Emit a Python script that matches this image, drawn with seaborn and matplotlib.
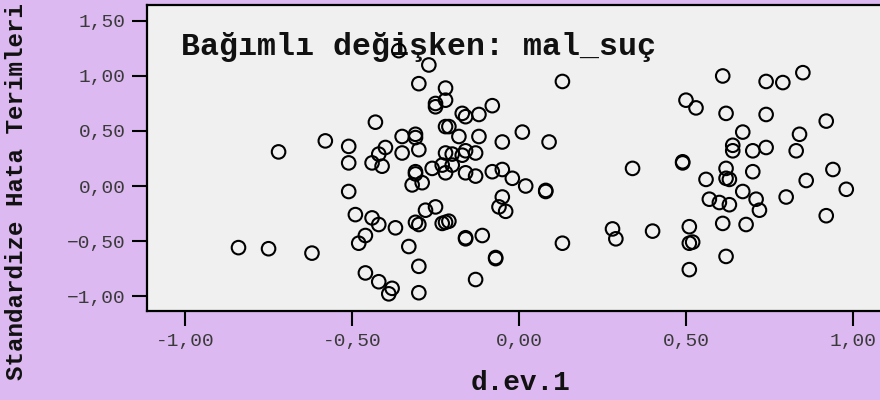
import matplotlib
matplotlib.use("Agg")
import matplotlib.pyplot as plt
import seaborn as sns
import pandas as pd
from matplotlib.ticker import FuncFormatter

# ---- data ----
dev1 = [
    -0.84, -0.75, -0.72, -0.62, -0.58, -0.51, -0.51, -0.51, -0.49, -0.44,
    -0.42, -0.37, -0.46, -0.48, -0.33, -0.46, -0.42, -0.38, -0.39, -0.44,
    -0.41, -0.42, -0.40, -0.43, -0.36, -0.35, -0.31, -0.31, -0.30, -0.35,
    -0.31, -0.31, -0.32, -0.29, -0.26, -0.28, -0.25, -0.31, -0.30, -0.30,
    -0.30, -0.27, -0.30, -0.25, -0.25, -0.22, -0.22, -0.17, -0.16, -0.22,
    -0.21, -0.18, -0.22, -0.20, -0.17, -0.16, -0.13, -0.23, -0.22, -0.20,
    -0.16, -0.23, -0.22, -0.21, -0.16, -0.16, -0.12, -0.08, -0.12, -0.13,
    -0.11, -0.13, -0.08, -0.05, -0.02, 0.02, 0.08, 0.08, -0.05, -0.06,
    -0.04, -0.07, -0.07, -0.05, 0.01, 0.09, 0.13, 0.13, 0.28, 0.29,
    0.34, 0.40, 0.49, 0.49, 0.51, 0.51, 0.52, 0.51, 0.50, 0.53,
    0.56, 0.57, 0.60, 0.63, 0.61, 0.62, 0.67, 0.64, 0.64, 0.70,
    0.74, 0.62, 0.62, 0.63, 0.70, 0.67, 0.71, 0.72, 0.61, 0.68,
    0.62, 0.74, 0.79, 0.85, 0.74, 0.92, 0.84, 0.83, 0.94, 0.86,
    0.98, 0.80, 0.92,
]
resid = [
    -0.56, -0.57, 0.31, -0.61, 0.41, 0.36, 0.21, -0.05, -0.26, -0.29,
    -0.35, -0.38, -0.45, -0.52, -0.55, -0.79, -0.87, -0.93, -0.98, 0.21,
    0.18, 0.29, 0.35, 0.58, 1.23, 0.45, 0.47, 0.44, 0.33, 0.30,
    0.13, 0.11, 0.01, 0.03, 0.16, -0.22, -0.19, -0.33, -0.35, -0.73,
    -0.97, 1.10, 0.93, 0.75, 0.72, 0.89, 0.78, 0.66, 0.63, 0.54,
    0.54, 0.45, 0.30, 0.29, 0.28, 0.32, 0.30, 0.19, 0.12, 0.19,
    0.12, -0.34, -0.33, -0.32, -0.47, -0.48, 0.65, 0.73, 0.45, 0.09,
    -0.45, -0.85, 0.13, 0.15, 0.07, 0.00, -0.04, -0.05, -0.10, -0.19,
    -0.23, -0.65, -0.66, 0.40, 0.49, 0.40, 0.95, -0.52, -0.39, -0.48,
    0.16, -0.41, 0.22, 0.21, -0.37, -0.52, -0.51, -0.76, 0.78, 0.71,
    0.06, -0.12, -0.15, -0.17, 1.00, 0.66, 0.49, 0.37, 0.32, 0.32,
    0.35, 0.16, 0.07, 0.06, 0.13, -0.05, -0.12, -0.22, -0.34, -0.35,
    -0.64, 0.95, 0.94, 1.03, 0.65, 0.59, 0.47, 0.32, 0.15, 0.05,
    -0.03, -0.10, -0.27,
]
x_ticks = [-1.0, -0.5, 0.0, 0.5, 1.0]
y_ticks = [-1.0, -0.5, 0.0, 0.5, 1.0, 1.5]

title_text = "Bağımlı değişken: mal_suç"
x_label = "d.ev.1"
y_label = "Standardize Hata Terimleri"

df = pd.DataFrame({"d.ev.1": dev1, "resid": resid})

sns.set_theme(style="white")
plt.rcParams["font.family"] = ["Liberation Mono", "DejaVu Sans Mono"]

W, H = 880, 400
fig = plt.figure(figsize=(W / 100, H / 100), dpi=100)
fig.patch.set_facecolor("#ddb9f1")

left_px, right_px, top_px, bottom_px = 147, 880, 5, 311
ax = fig.add_axes([left_px / W, 1 - bottom_px / H,
                   (right_px - left_px) / W, (bottom_px - top_px) / H])
ax.set_facecolor("#f0f0f0")

sns.scatterplot(data=df, x="d.ev.1", y="resid", ax=ax, marker="o", s=95,
                facecolor="none", edgecolor="black", linewidth=1.5,
                legend=False, zorder=3)

ax.set_xlim(-1.114, 1.081)
ax.set_ylim(-1.136, 1.645)
ax.set_xticks(x_ticks)
ax.set_yticks(y_ticks)

ax.xaxis.set_major_formatter(FuncFormatter(lambda v, p: f"{v:.2f}".replace(".", ",")))
ax.yaxis.set_major_formatter(FuncFormatter(
    lambda v, p: f"{v:.2f}".replace(".", ",").replace("-", "\u2212")))

for s in ["left", "bottom", "top"]:
    ax.spines[s].set_visible(True)
    ax.spines[s].set_color("black")
    ax.spines[s].set_linewidth(1.6)
ax.spines["right"].set_visible(False)

ax.tick_params(axis="both", which="major", bottom=True, left=True,
               top=False, right=False, direction="out", length=10.5,
               width=1.5, color="black", labelsize=14, labelcolor="#3a3a3a")
ax.tick_params(axis="x", pad=5)
ax.tick_params(axis="y", pad=5)

ax.set_xlabel("")
ax.set_ylabel("")

ax.text(0.046, 0.837, title_text, transform=ax.transAxes, ha="left",
        va="baseline", fontsize=22.8, fontweight="bold", color="#111111",
        zorder=2)

fig.text(520 / W, 1 - 383 / H, x_label, ha="center", va="center",
         fontsize=20, fontweight="bold", color="#111111")
fig.text(17 / W, 1 - 192 / H, y_label, ha="center", va="center",
         rotation=90, fontsize=17.5, fontweight="bold", color="#111111")

fig.savefig("out.png", dpi=100, facecolor=fig.get_facecolor())
